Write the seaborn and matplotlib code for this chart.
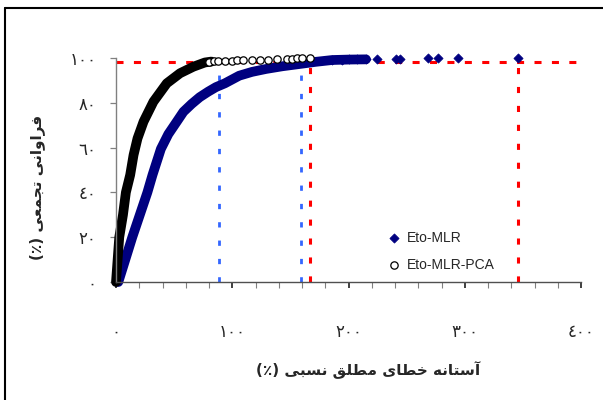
import numpy as np
import matplotlib
matplotlib.use('Agg')
import matplotlib.pyplot as plt
import seaborn as sns
from matplotlib.ticker import MultipleLocator
from matplotlib.lines import Line2D

# =============================================
# 1. DATA
# =============================================
# dense part of the cumulative curves: error threshold (%) vs cumulative frequency (%)
mlr_band_x = [2, 8, 14, 20.5, 27, 31.4, 38.6, 45, 52.3, 58, 65.1, 72, 79.4, 86, 93.7, 106, 117, 129, 143, 157.6, 172, 186, 200, 215]
mlr_band_y = [0, 10, 20, 30, 40, 47.8, 59.4, 66, 71.6, 76, 79.5, 82.5, 85, 87, 88.7, 92.1, 93.8, 95.1, 96.3, 97.3, 98.3, 99.1, 99.3, 99.4]

pca_band_x = [0, 1.4, 2.8, 6, 8.5, 12.2, 15.1, 18.5, 23.7, 32.2, 43.7, 55.1, 66.5, 76.5, 82]
pca_band_y = [0, 10, 20, 30, 40, 47.8, 56.7, 64.1, 71.6, 80.5, 88.7, 93.2, 96.1, 98.0, 98.4]

# sparse points in the tail (individual markers)
mlr_top_x = [186, 194, 200, 207, 215, 224.6, 241, 244, 268, 277, 294.5, 346]
mlr_top_y = [99.1, 99.3, 99.4, 99.5, 99.55, 99.6, 99.7, 99.72, 99.8, 99.83, 99.87, 99.95]

pca_top_x = [80, 84, 87.7, 93.7, 99.7, 104, 109.2, 116.8, 123.7, 130.5, 138.2, 146.8, 151.1, 155.4, 159.7, 166.5]
pca_top_y = [98.4, 98.5, 98.6, 98.7, 98.8, 98.9, 99.1, 99.15, 99.2, 99.3, 99.4, 99.7, 99.75, 99.8, 99.85, 99.9]

# reference lines
ref_h = 98
ref_red_x = [167, 346]
ref_blue_x = [89, 159]

x_ticks = [0, 100, 200, 300, 400]
y_ticks = [0, 20, 40, 60, 80, 100]

xlabel_text = 'آستانه خطای مطلق نسبی (٪)'
ylabel_text = 'فراوانی تجمعی (٪)'

# =============================================
# 2. ARABIC SCRIPT HELPERS (matplotlib does no shaping / RTL)
# =============================================
FORMS = {
    'آ': ('\uFE81', '\uFE82', None, None),
    'ا': ('\uFE8D', '\uFE8E', None, None),
    'ب': ('\uFE8F', '\uFE90', '\uFE91', '\uFE92'),
    'ت': ('\uFE95', '\uFE96', '\uFE97', '\uFE98'),
    'ج': ('\uFE9D', '\uFE9E', '\uFE9F', '\uFEA0'),
    'خ': ('\uFEA5', '\uFEA6', '\uFEA7', '\uFEA8'),
    'ر': ('\uFEAD', '\uFEAE', None, None),
    'س': ('\uFEB1', '\uFEB2', '\uFEB3', '\uFEB4'),
    'ط': ('\uFEC1', '\uFEC2', '\uFEC3', '\uFEC4'),
    'ع': ('\uFEC9', '\uFECA', '\uFECB', '\uFECC'),
    'ف': ('\uFED1', '\uFED2', '\uFED3', '\uFED4'),
    'ق': ('\uFED5', '\uFED6', '\uFED7', '\uFED8'),
    'ل': ('\uFEDD', '\uFEDE', '\uFEDF', '\uFEE0'),
    'م': ('\uFEE1', '\uFEE2', '\uFEE3', '\uFEE4'),
    'ن': ('\uFEE5', '\uFEE6', '\uFEE7', '\uFEE8'),
    'ه': ('\uFEE9', '\uFEEA', '\uFEEB', '\uFEEC'),
    'و': ('\uFEED', '\uFEEE', None, None),
    'ی': ('\uFEEF', '\uFEF0', '\uFEF3', '\uFEF4'),
}


def shape_rtl(text):
    out = []
    for i, ch in enumerate(text):
        if ch not in FORMS:
            out.append(ch)
            continue
        prev = text[i - 1] if i > 0 else ''
        nxt = text[i + 1] if i + 1 < len(text) else ''
        joins_prev = prev in FORMS and FORMS[prev][2] is not None
        joins_next = nxt in FORMS and FORMS[ch][2] is not None
        iso, fin, ini, med = FORMS[ch]
        if joins_prev and joins_next:
            out.append(med)
        elif joins_prev:
            out.append(fin)
        elif joins_next:
            out.append(ini)
        else:
            out.append(iso)
    mirror = {'(': ')', ')': '('}
    return ''.join(mirror.get(c, c) for c in reversed(out))


def to_arabic(n):
    return str(n).translate(str.maketrans('0123456789', '٠١٢٣٤٥٦٧٨٩'))


# =============================================
# 3. PLOT
# =============================================
sns.set_style('white')
plt.rcParams['font.family'] = ['DejaVu Sans']

navy = '#000080'

fig = plt.figure(figsize=(6.03, 4.0), dpi=100)
ax = fig.add_axes([116 / 603, 118 / 400, 465 / 603, 224 / 400])

# reference lines (behind the curves)
ax.hlines(ref_h, 0, 400, colors='#FF0000', linestyles=(0, (2.3, 3.4)), lw=2.2, zorder=1)
ax.vlines(ref_red_x, 0, ref_h, colors='#FF0000', linestyles=(0, (2.0, 4.2)), lw=2.2, zorder=1)
ax.vlines(ref_blue_x, 0, ref_h, colors='#3366FF', linestyles=(0, (1.9, 4.7)), lw=2.0, zorder=1)

# dense bands
sns.lineplot(x=mlr_band_x, y=mlr_band_y, ax=ax, color=navy, lw=7, sort=False,
             estimator=None, solid_capstyle='round', zorder=2, clip_on=False)
sns.lineplot(x=pca_band_x, y=pca_band_y, ax=ax, color='black', lw=7, sort=False,
             estimator=None, solid_capstyle='round', zorder=2, clip_on=False)

# tail markers
sns.scatterplot(x=mlr_top_x, y=mlr_top_y, ax=ax, marker='D', s=22, color=navy,
                edgecolor=navy, linewidth=0.5, label='Eto-MLR', zorder=3, clip_on=False)
sns.scatterplot(x=pca_top_x, y=pca_top_y, ax=ax, marker='o', s=28, color='white',
                edgecolor='black', linewidth=0.9, label='Eto-MLR-PCA', zorder=4, clip_on=False)

ax.set_xlim(0, 400)
ax.set_ylim(0, 100)

ax.set_xticks(x_ticks)
ax.set_xticklabels([to_arabic(v) for v in x_ticks], fontsize=12)
ax.xaxis.set_minor_locator(MultipleLocator(20))
ax.set_yticks(y_ticks)
ax.set_yticklabels([to_arabic(v) for v in y_ticks], fontsize=12)

ax.tick_params(axis='x', which='both', direction='out', length=4.5, width=0.8,
               color='#808080', pad=25, bottom=True)
ax.tick_params(axis='x', which='major', width=1.3, color='#303030')
ax.tick_params(axis='y', direction='out', length=4, width=0.9, color='#808080',
               pad=10, left=True)

for side in ['top', 'right']:
    ax.spines[side].set_visible(False)
ax.spines['left'].set_color('#808080')
ax.spines['left'].set_linewidth(1.0)
ax.spines['bottom'].set_color('#505050')
ax.spines['bottom'].set_linewidth(1.0)

ax.set_xlabel(shape_rtl(xlabel_text), fontsize=11, fontweight='bold')
ax.xaxis.set_label_coords(0.542, -0.355)
ax.set_ylabel(shape_rtl(ylabel_text), fontsize=11, fontweight='bold')
ax.yaxis.set_label_coords(-0.153, 0.42)

leg = ax.legend(loc='upper left', bbox_to_anchor=(0.556, 0.285), frameon=False,
                prop={'family': 'Liberation Sans', 'size': 10}, handlelength=1.0,
                handletextpad=0.45, labelspacing=0.95, borderpad=0.4)

# outer frame of the chart area
fig.add_artist(Line2D([5 / 603, 5 / 603], [0, 1 - 8 / 400], color='black', lw=1.5))
fig.add_artist(Line2D([5 / 603, 1], [1 - 8 / 400, 1 - 8 / 400], color='black', lw=1.5))

plt.savefig('out.png', dpi=100)
